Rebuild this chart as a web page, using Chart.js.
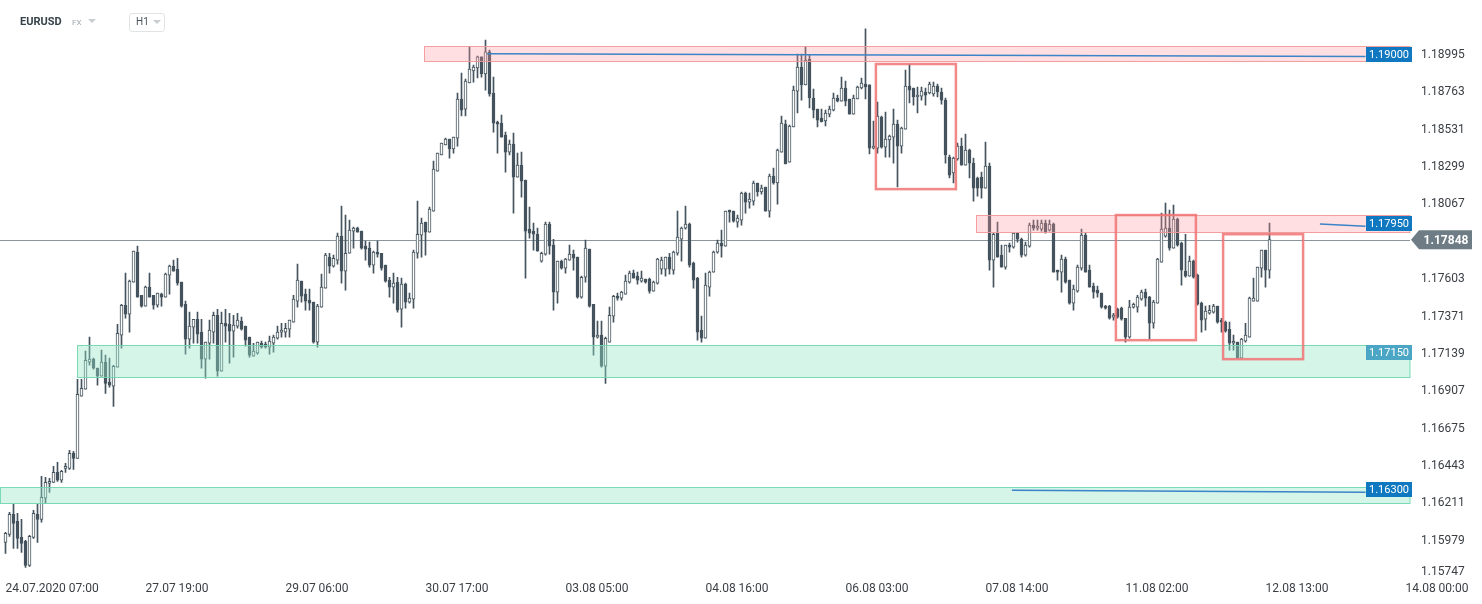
<!DOCTYPE html>
<html><head><meta charset="utf-8">
<script src="https://cdn.jsdelivr.net/npm/chart.js@4.4.1/dist/chart.umd.min.js"></script>
<style>
html,body{margin:0;padding:0;background:#fff;}
#wrap{position:relative;width:1482px;height:604px;overflow:hidden;}
canvas{position:absolute;left:0;top:0;}
.hdr{position:absolute;font-family:Roboto,"Noto Sans",sans-serif;white-space:nowrap;}
.tri{position:absolute;width:0;height:0;border-left:4px solid transparent;border-right:4px solid transparent;border-top:4px solid #c8cdd0;}
</style></head><body>
<div id="wrap">
<canvas id="c" width="1482" height="604"></canvas>
<div class="hdr" style="left:20px;top:15px;font-size:11px;font-weight:700;color:#36434b;">EURUSD</div>
<div class="hdr" style="left:72px;top:18px;font-size:8px;color:#a0a8ad;">FX</div>
<div class="tri" style="left:88px;top:19px;"></div>
<div class="hdr" style="left:129px;top:13px;width:34px;height:17px;border:1px solid #e1e4e6;border-radius:3px;"></div>
<div class="hdr" style="left:136px;top:16px;font-size:10px;color:#4a555c;">H1</div>
<div class="tri" style="left:153px;top:20px;"></div>
</div>
<script>
// ---- data (EURUSD H1) ----
const opens = [
1.15968,1.16018,1.16142,1.16099,1.15999,1.15975,1.15825,1.15999,1.16142,1.16111,
1.16242,1.16335,1.16341,1.16403,1.16354,1.16428,1.16428,1.16522,1.16490,1.16876,
1.16919,1.17088,1.17106,1.17050,1.17000,1.17088,1.16963,1.16938,1.17056,1.17255,
1.17441,1.17385,1.17584,1.17771,1.17503,1.17435,1.17553,1.17503,1.17441,1.17510,
1.17491,1.17628,1.17684,1.17665,1.17584,1.17447,1.17230,1.17305,1.17354,1.17274,
1.17106,1.17205,1.17274,1.17379,1.17031,1.17329,1.17323,1.17280,1.17311,1.17342,
1.17311,1.17243,1.17125,1.17143,1.17205,1.17199,1.17181,1.17205,1.17236,1.17274,
1.17274,1.17292,1.17336,1.17466,1.17591,1.17510,1.17472,1.17460,1.17212,1.17429,
1.17547,1.17740,1.17684,1.17721,1.17870,1.17653,1.17764,1.17901,1.17920,1.17901,
1.17808,1.17796,1.17690,1.17771,1.17764,1.17690,1.17597,1.17553,1.17584,1.17416,
1.17572,1.17460,1.17479,1.17764,1.17876,1.17957,1.17895,1.18025,1.18274,1.18374,
1.18436,1.18473,1.18411,1.18479,1.18722,1.18659,1.18821,1.18896,1.18914,1.18983,
1.18877,1.19014,1.18759,1.18579,1.18572,1.18498,1.18392,1.18442,1.18237,1.18311,
1.18218,1.17914,1.17901,1.17882,1.17715,1.17758,1.17945,1.17814,1.17522,1.17715,
1.17671,1.17721,1.17758,1.17740,1.17491,1.17615,1.17789,1.17447,1.17243,1.17255,
1.17062,1.17212,1.17373,1.17497,1.17485,1.17510,1.17584,1.17640,1.17622,1.17591,
1.17603,1.17603,1.17528,1.17578,1.17665,1.17665,1.17740,1.17659,1.17764,1.17851,
1.17920,1.17945,1.17702,1.17609,1.17286,1.17236,1.17553,1.17647,1.17771,1.17827,
1.17808,1.18025,1.18025,1.17957,1.17970,1.18137,1.18081,1.18088,1.18200,1.18144,
1.18175,1.18025,1.18243,1.18200,1.18392,1.18566,1.18330,1.18548,1.18771,1.18920,
1.18809,1.18970,1.18728,1.18659,1.18604,1.18585,1.18628,1.18653,1.18728,1.18709,
1.18790,1.18722,1.18628,1.18722,1.18790,1.18815,1.18809,1.18417,1.18417,1.18610,
1.18423,1.18467,1.18485,1.18566,1.18429,1.18535,1.18802,1.18790,1.18734,1.18740,
1.18765,1.18759,1.18753,1.18802,1.18765,1.18715,1.18361,1.18262,1.18349,1.18429,
1.18311,1.18405,1.18324,1.18231,1.18237,1.18168,1.18305,1.17721,1.17889,1.17752,
1.17678,1.17814,1.17802,1.17889,1.17851,1.17752,1.17808,1.17938,1.17920,1.17914,
1.17951,1.17907,1.17945,1.17659,1.17647,1.17727,1.17597,1.17454,1.17528,1.17671,
1.17876,1.17659,1.17560,1.17535,1.17516,1.17435,1.17435,1.17367,1.17416,1.17423,
1.17360,1.17243,1.17429,1.17429,1.17479,1.17522,1.17491,1.17329,1.17454,1.17709,
1.17870,1.17920,1.17796,1.17976,1.17827,1.17653,1.17622,1.17715,1.17628,1.17454,
1.17354,1.17391,1.17398,1.17435,1.17348,1.17336,1.17292,1.17205,1.17212,1.17112,
1.17218,1.17243,1.17466,1.17466,1.17671,1.17783,1.17659];
const highs = [
1.16030,1.16155,1.16205,1.16149,1.16111,1.15981,1.16012,1.16167,1.16205,1.16379,
1.16372,1.16366,1.16441,1.16466,1.16416,1.16459,1.16540,1.16534,1.16981,1.16981,
1.17156,1.17243,1.17112,1.17050,1.17162,1.17131,1.17112,1.17068,1.17323,1.17447,
1.17640,1.17597,1.17777,1.17808,1.17503,1.17560,1.17640,1.17503,1.17516,1.17516,
1.17640,1.17690,1.17721,1.17733,1.17584,1.17466,1.17398,1.17354,1.17398,1.17354,
1.17212,1.17348,1.17398,1.17416,1.17398,1.17416,1.17391,1.17379,1.17391,1.17367,
1.17311,1.17243,1.17205,1.17212,1.17218,1.17212,1.17249,1.17255,1.17311,1.17329,
1.17329,1.17348,1.17503,1.17696,1.17591,1.17541,1.17541,1.17460,1.17447,1.17634,
1.17764,1.17764,1.17752,1.17889,1.18057,1.18001,1.17970,1.17926,1.17926,1.17901,
1.17839,1.17833,1.17777,1.17839,1.17764,1.17690,1.17615,1.17640,1.17615,1.17609,
1.17578,1.17516,1.17783,1.18088,1.17982,1.17957,1.18050,1.18336,1.18386,1.18448,
1.18479,1.18473,1.18485,1.18759,1.18883,1.18846,1.19045,1.18933,1.18989,1.18983,
1.19088,1.19026,1.18858,1.18585,1.18622,1.18516,1.18467,1.18510,1.18386,1.18392,
1.18218,1.18050,1.17951,1.17920,1.17771,1.17957,1.17957,1.17851,1.17715,1.17721,
1.17733,1.17814,1.17783,1.17740,1.17622,1.17845,1.17789,1.17447,1.17342,1.17342,
1.17243,1.17429,1.17503,1.17516,1.17528,1.17628,1.17653,1.17659,1.17647,1.17653,
1.17603,1.17609,1.17591,1.17733,1.17740,1.17740,1.17764,1.17777,1.18025,1.17926,
1.18057,1.17951,1.17709,1.17615,1.17373,1.17640,1.17653,1.17777,1.17845,1.17907,
1.18025,1.18032,1.18025,1.18001,1.18144,1.18144,1.18137,1.18212,1.18200,1.18187,
1.18175,1.18255,1.18293,1.18411,1.18616,1.18591,1.18560,1.18802,1.19001,1.19001,
1.19045,1.18995,1.18784,1.18659,1.18659,1.18653,1.18678,1.18759,1.18746,1.18858,
1.18833,1.18722,1.18746,1.18802,1.18852,1.19157,1.18809,1.18585,1.18703,1.18616,
1.18641,1.18498,1.18659,1.18591,1.18548,1.18902,1.18939,1.18790,1.18796,1.18796,
1.18790,1.18827,1.18827,1.18815,1.18790,1.18728,1.18374,1.18361,1.18448,1.18479,
1.18504,1.18411,1.18355,1.18237,1.18268,1.18454,1.18324,1.17889,1.17957,1.17814,
1.17814,1.17827,1.17889,1.17889,1.17858,1.17833,1.17951,1.17970,1.17970,1.17970,
1.17970,1.17970,1.17951,1.17659,1.17752,1.17740,1.17597,1.17566,1.17690,1.17914,
1.17889,1.17690,1.17578,1.17560,1.17516,1.17441,1.17441,1.17391,1.17423,1.17429,
1.17360,1.17472,1.17454,1.17503,1.17535,1.17541,1.17497,1.17472,1.17733,1.18013,
1.18075,1.18032,1.18063,1.17982,1.17833,1.17882,1.17746,1.17721,1.17634,1.17460,
1.17435,1.17441,1.17447,1.17435,1.17360,1.17342,1.17336,1.17255,1.17212,1.17236,
1.17329,1.17491,1.17609,1.17678,1.17783,1.17783,1.17951];
const lows = [
1.15900,1.16006,1.15931,1.15931,1.15906,1.15813,1.15819,1.15993,1.15968,1.16093,
1.16211,1.16279,1.16341,1.16347,1.16341,1.16403,1.16422,1.16422,1.16490,1.16876,
1.16919,1.17068,1.17044,1.16944,1.17000,1.16894,1.16932,1.16813,1.17056,1.17174,
1.17360,1.17274,1.17584,1.17491,1.17429,1.17435,1.17491,1.17416,1.17429,1.17435,
1.17491,1.17510,1.17653,1.17566,1.17429,1.17137,1.17174,1.17205,1.17205,1.17050,
1.16988,1.17106,1.17205,1.17000,1.17031,1.17212,1.17081,1.17119,1.17298,1.17286,
1.17187,1.17119,1.17125,1.17137,1.17174,1.17174,1.17137,1.17150,1.17230,1.17243,
1.17243,1.17243,1.17336,1.17429,1.17460,1.17410,1.17410,1.17205,1.17181,1.17429,
1.17547,1.17640,1.17678,1.17696,1.17578,1.17535,1.17764,1.17796,1.17895,1.17789,
1.17721,1.17678,1.17640,1.17740,1.17659,1.17584,1.17491,1.17454,1.17398,1.17305,
1.17423,1.17454,1.17423,1.17733,1.17740,1.17752,1.17895,1.18025,1.18274,1.18374,
1.18436,1.18355,1.18386,1.18429,1.18616,1.18616,1.18821,1.18827,1.18852,1.18858,
1.18777,1.18740,1.18516,1.18386,1.18485,1.18268,1.18374,1.18013,1.18237,1.18112,
1.17609,1.17858,1.17783,1.17777,1.17709,1.17752,1.17758,1.17410,1.17454,1.17665,
1.17640,1.17721,1.17659,1.17485,1.17485,1.17584,1.17429,1.17131,1.17236,1.17056,
1.16956,1.17212,1.17336,1.17472,1.17472,1.17510,1.17578,1.17609,1.17572,1.17584,
1.17578,1.17516,1.17528,1.17572,1.17634,1.17622,1.17634,1.17634,1.17752,1.17715,
1.17914,1.17678,1.17547,1.17224,1.17212,1.17236,1.17497,1.17647,1.17764,1.17740,
1.17808,1.17957,1.17957,1.17926,1.17938,1.18013,1.18044,1.18063,1.18119,1.18131,
1.18025,1.17988,1.18193,1.18069,1.18392,1.18318,1.18330,1.18548,1.18635,1.18715,
1.18809,1.18666,1.18604,1.18548,1.18579,1.18554,1.18610,1.18647,1.18703,1.18709,
1.18678,1.18628,1.18628,1.18722,1.18784,1.18722,1.18380,1.18411,1.18386,1.18417,
1.18361,1.18361,1.18324,1.18175,1.18386,1.18535,1.18697,1.18684,1.18635,1.18715,
1.18684,1.18753,1.18740,1.18734,1.18690,1.18324,1.18231,1.18200,1.18342,1.18311,
1.18311,1.18231,1.18088,1.18119,1.18106,1.18168,1.17659,1.17553,1.17740,1.17678,
1.17665,1.17771,1.17796,1.17833,1.17740,1.17746,1.17802,1.17907,1.17907,1.17901,
1.17889,1.17901,1.17647,1.17597,1.17522,1.17578,1.17447,1.17410,1.17522,1.17659,
1.17647,1.17553,1.17485,1.17491,1.17423,1.17416,1.17354,1.17348,1.17360,1.17348,
1.17212,1.17236,1.17423,1.17398,1.17472,1.17435,1.17230,1.17298,1.17454,1.17709,
1.17864,1.17783,1.17796,1.17808,1.17566,1.17615,1.17622,1.17609,1.17441,1.17274,
1.17286,1.17385,1.17391,1.17329,1.17274,1.17274,1.17162,1.17162,1.17112,1.17112,
1.17212,1.17243,1.17466,1.17466,1.17615,1.17553,1.17609];
const closes = [
1.16024,1.16142,1.16086,1.15993,1.15962,1.15825,1.16006,1.16149,1.16111,1.16248,
1.16341,1.16347,1.16403,1.16354,1.16410,1.16441,1.16522,1.16490,1.16888,1.16925,
1.17099,1.17106,1.17050,1.17000,1.17088,1.16956,1.16944,1.17062,1.17267,1.17441,
1.17385,1.17591,1.17777,1.17491,1.17435,1.17553,1.17491,1.17441,1.17516,1.17491,
1.17634,1.17684,1.17653,1.17578,1.17435,1.17230,1.17311,1.17354,1.17261,1.17106,
1.17212,1.17286,1.17379,1.17031,1.17329,1.17311,1.17280,1.17317,1.17348,1.17292,
1.17224,1.17131,1.17156,1.17212,1.17181,1.17181,1.17218,1.17243,1.17274,1.17286,
1.17298,1.17348,1.17479,1.17597,1.17497,1.17466,1.17454,1.17212,1.17435,1.17553,
1.17752,1.17684,1.17733,1.17870,1.17653,1.17764,1.17907,1.17920,1.17895,1.17796,
1.17789,1.17690,1.17771,1.17758,1.17671,1.17591,1.17553,1.17578,1.17410,1.17572,
1.17460,1.17485,1.17771,1.17882,1.17951,1.17895,1.18038,1.18287,1.18386,1.18448,
1.18473,1.18411,1.18485,1.18722,1.18653,1.18833,1.18908,1.18920,1.18983,1.18877,
1.19014,1.18753,1.18572,1.18566,1.18485,1.18392,1.18442,1.18237,1.18311,1.18212,
1.17901,1.17889,1.17882,1.17777,1.17764,1.17945,1.17808,1.17522,1.17715,1.17671,
1.17727,1.17758,1.17733,1.17491,1.17615,1.17796,1.17435,1.17243,1.17255,1.17062,
1.17236,1.17379,1.17497,1.17485,1.17522,1.17591,1.17640,1.17609,1.17597,1.17609,
1.17584,1.17528,1.17584,1.17727,1.17721,1.17740,1.17665,1.17771,1.17864,1.17920,
1.17945,1.17690,1.17597,1.17274,1.17236,1.17566,1.17647,1.17771,1.17827,1.17808,
1.18025,1.18019,1.17963,1.17982,1.18137,1.18081,1.18100,1.18200,1.18144,1.18168,
1.18025,1.18243,1.18200,1.18405,1.18572,1.18318,1.18554,1.18777,1.18920,1.18809,
1.18964,1.18728,1.18653,1.18591,1.18579,1.18635,1.18659,1.18728,1.18709,1.18790,
1.18709,1.18628,1.18728,1.18796,1.18821,1.18796,1.18417,1.18429,1.18616,1.18423,
1.18473,1.18492,1.18566,1.18429,1.18541,1.18802,1.18777,1.18734,1.18746,1.18771,
1.18746,1.18815,1.18802,1.18765,1.18715,1.18374,1.18249,1.18355,1.18429,1.18311,
1.18405,1.18324,1.18168,1.18168,1.18168,1.18305,1.17721,1.17882,1.17740,1.17678,
1.17814,1.17802,1.17889,1.17851,1.17752,1.17814,1.17938,1.17920,1.17932,1.17951,
1.17895,1.17945,1.17647,1.17647,1.17727,1.17584,1.17454,1.17541,1.17678,1.17876,
1.17647,1.17553,1.17522,1.17516,1.17429,1.17423,1.17360,1.17379,1.17367,1.17354,
1.17243,1.17429,1.17447,1.17491,1.17522,1.17485,1.17329,1.17460,1.17727,1.17914,
1.17920,1.17796,1.17976,1.17814,1.17659,1.17622,1.17715,1.17615,1.17447,1.17348,
1.17404,1.17410,1.17435,1.17336,1.17336,1.17280,1.17205,1.17212,1.17112,1.17230,
1.17255,1.17485,1.17485,1.17678,1.17783,1.17659,1.17848];

// axis ticks
const xTickIdx = [0,35,70,105,140,175,210,245,280,315,350];
const xTickLabels = ["24.07.2020 07:00","27.07 19:00","29.07 06:00","30.07 17:00","03.08 05:00","04.08 16:00","06.08 03:00","07.08 14:00","11.08 02:00","12.08 13:00","14.08 00:00"];
const yTicks = [1.15747,1.15979,1.16211,1.16443,1.16675,1.16907,1.17139,1.17371,1.17603,1.17835,1.18067,1.18299,1.18531,1.18763,1.18995];
const currentPrice = 1.17848;
const levelPrices = [1.19000, 1.17950, 1.17150, 1.16300];

// ---- drawing annotations (in data units) ----
const zones = [
  {from:104.7, top:1.19052, bottom:1.18958, fill:'rgba(255,150,155,0.30)', stroke:'rgba(240,150,150,0.9)'},
  {from:242.6, top:1.18001, bottom:1.17895, fill:'rgba(255,150,155,0.30)', stroke:'rgba(240,150,150,0.9)'},
  {from:17.9,  top:1.17193, bottom:1.16994, fill:'rgba(150,230,200,0.40)', stroke:'rgba(110,215,175,0.9)'},
  {from:-1.4,  top:1.16310, bottom:1.16211, fill:'rgba(150,230,200,0.40)', stroke:'rgba(110,215,175,0.9)'}
];
const levelLines = [
  {x0:120.4, p0:1.19003, x1:340, p1:1.18985},
  {x0:328.6, p0:1.17945, x1:340, p1:1.17932},
  {x0:251.6, p0:1.16292, x1:340, p1:1.16280}
];
const levelLabelColors = ['#0f78c0','#0f78c0','#4ba6c6','#0f78c0'];
const boxes = [
  {x0:217.6, x1:237.6, top:1.18939, bottom:1.18162},
  {x0:277.6, x1:297.6, top:1.18001, bottom:1.17224},
  {x0:304.4, x1:324.4, top:1.17882, bottom:1.17106}
];

const DARK = '#44535d';
const FONT = 'Roboto, "Noto Sans", sans-serif';
const AXIS_COLOR = '#3a3f44';

const overlay = {
  id:'overlay',
  beforeDatasetsDraw(chart){
    const {ctx, chartArea:a, scales:{y}} = chart;
    const py = Math.round(y.getPixelForValue(currentPrice)) + 0.5;
    ctx.save();
    ctx.strokeStyle = '#8a969c'; ctx.lineWidth = 1;
    ctx.beginPath(); ctx.moveTo(a.left, py); ctx.lineTo(a.right, py); ctx.stroke();
    ctx.restore();
  },
  afterDatasetsDraw(chart){
    const {ctx, chartArea:a, scales:{x,y}} = chart;
    ctx.save();
    // bottom tick label kept inside the canvas edge like the original
    ctx.font = '12px ' + FONT; ctx.fillStyle = AXIS_COLOR; ctx.textAlign = 'left'; ctx.textBaseline = 'middle';
    ctx.fillText(yTicks[0].toFixed(5), a.right + 11, a.bottom - 6);
    // zones
    zones.forEach(z=>{
      const x0 = Math.round(x.getPixelForValue(z.from)) + 0.5;
      const y0 = Math.round(y.getPixelForValue(z.top)) + 0.5;
      const y1 = Math.round(y.getPixelForValue(z.bottom)) + 0.5;
      ctx.fillStyle = z.fill; ctx.fillRect(x0, y0, a.right - x0, y1 - y0);
      ctx.strokeStyle = z.stroke; ctx.lineWidth = 1;
      ctx.strokeRect(x0, y0, a.right - x0, y1 - y0);
    });
    // red boxes
    boxes.forEach(b=>{
      const x0 = x.getPixelForValue(b.x0), x1 = x.getPixelForValue(b.x1);
      const y0 = y.getPixelForValue(b.top), y1 = y.getPixelForValue(b.bottom);
      ctx.strokeStyle = 'rgba(240,115,115,0.85)'; ctx.lineWidth = 2.5;
      ctx.strokeRect(x0, y0, x1 - x0, y1 - y0);
    });
    // level lines
    levelLines.forEach(l=>{
      ctx.strokeStyle = '#3b84c8'; ctx.lineWidth = 1.5;
      ctx.beginPath();
      ctx.moveTo(x.getPixelForValue(l.x0), y.getPixelForValue(l.p0));
      ctx.lineTo(x.getPixelForValue(l.x1), y.getPixelForValue(l.p1));
      ctx.stroke();
    });
    // level labels
    ctx.font = '11px ' + FONT; ctx.textAlign = 'center'; ctx.textBaseline = 'middle';
    levelPrices.forEach((p,i)=>{
      const cy = Math.round(y.getPixelForValue(p));
      ctx.fillStyle = levelLabelColors[i];
      ctx.fillRect(a.right - 44, cy - 7, 46, 15);
      ctx.fillStyle = '#ffffff';
      ctx.fillText(p.toFixed(5), a.right - 21, cy + 1);
    });
    // current price label
    const cy = y.getPixelForValue(currentPrice);
    ctx.fillStyle = '#6e7c85';
    ctx.beginPath();
    ctx.moveTo(a.right + 1, cy);
    ctx.lineTo(a.right + 9, cy - 9.5);
    ctx.lineTo(a.right + 62, cy - 9.5);
    ctx.lineTo(a.right + 62, cy + 9.5);
    ctx.lineTo(a.right + 9, cy + 9.5);
    ctx.closePath(); ctx.fill();
    ctx.fillStyle = '#ffffff'; ctx.font = 'bold 12px ' + FONT;
    ctx.fillText(currentPrice.toFixed(5), a.right + 36, cy + 1);
    ctx.restore();
  }
};

const idx = opens.map((_, i) => i);
const bodyData = idx.map(i => ({x:i, y:[Math.min(opens[i], closes[i]), Math.max(opens[i], closes[i])]}));
const wickData = idx.map(i => ({x:i, y:[lows[i], highs[i]]}));
const bodyFill = idx.map(i => closes[i] >= opens[i] ? '#ffffff' : DARK);

const chart = new Chart(document.getElementById('c'), {
  type:'bar',
  data:{datasets:[
    {label:'body', data:bodyData, backgroundColor:bodyFill, borderColor:DARK, borderWidth:1,
     borderSkipped:false, barThickness:3, minBarLength:2, grouped:false, order:1},
    {label:'wick', data:wickData, backgroundColor:DARK, borderWidth:0,
     barThickness:1, minBarLength:1, grouped:false, order:2}
  ]},
  options:{
    responsive:false, animation:false, devicePixelRatio:1,
    layout:{padding:{top:14, left:0, right:0, bottom:0}},
    plugins:{legend:{display:false}, tooltip:{enabled:false}},
    scales:{
      x:{type:'linear', min:-1.375, max:351.125, offset:false,
         grid:{display:false, drawTicks:false}, border:{display:false},
         afterBuildTicks:s=>{ s.ticks = xTickIdx.map(v=>({value:v})); },
         afterFit:s=>{ s.height = 26; },
         ticks:{autoSkip:false, maxRotation:0, minRotation:0, align:'start', padding:4,
                font:{family:FONT, size:12}, color:AXIS_COLOR,
                callback:v=>{ const k = xTickIdx.indexOf(v); return k>=0 ? xTickLabels[k] : ''; }}},
      y:{position:'right', min:1.15747, max:1.1925,
         grid:{display:false, drawTicks:false}, border:{display:false},
         afterBuildTicks:s=>{ s.ticks = yTicks.map(v=>({value:v})); },
         afterFit:s=>{ s.width = 72; },
         ticks:{padding:11, font:{family:FONT, size:12}, color:AXIS_COLOR,
                callback:v=> (Math.abs(v - yTicks[0]) < 1e-9 ? '' : Number(v).toFixed(5))}}
    }
  },
  plugins:[overlay]
});

// calibrate axis ranges so the scale matches the original layout:
// 1.18995 at y=55, 1.15747 at y=578; candle i centred at x = 5.5 + 4*i
function calibrate(){
  const a = chart.chartArea;
  const top = yTicks[yTicks.length-1], bot = yTicks[0];
  const k = (578 - 55) / (top - bot);
  chart.options.scales.y.max = top + (55 - a.top) / k;
  chart.options.scales.y.min = bot - (a.bottom - 578) / k;
  chart.options.scales.x.min = (a.left - 5.5) / 4;
  chart.options.scales.x.max = (a.right - 5.5) / 4;
  chart.update('none');
}
calibrate(); calibrate();
</script>
</body></html>
